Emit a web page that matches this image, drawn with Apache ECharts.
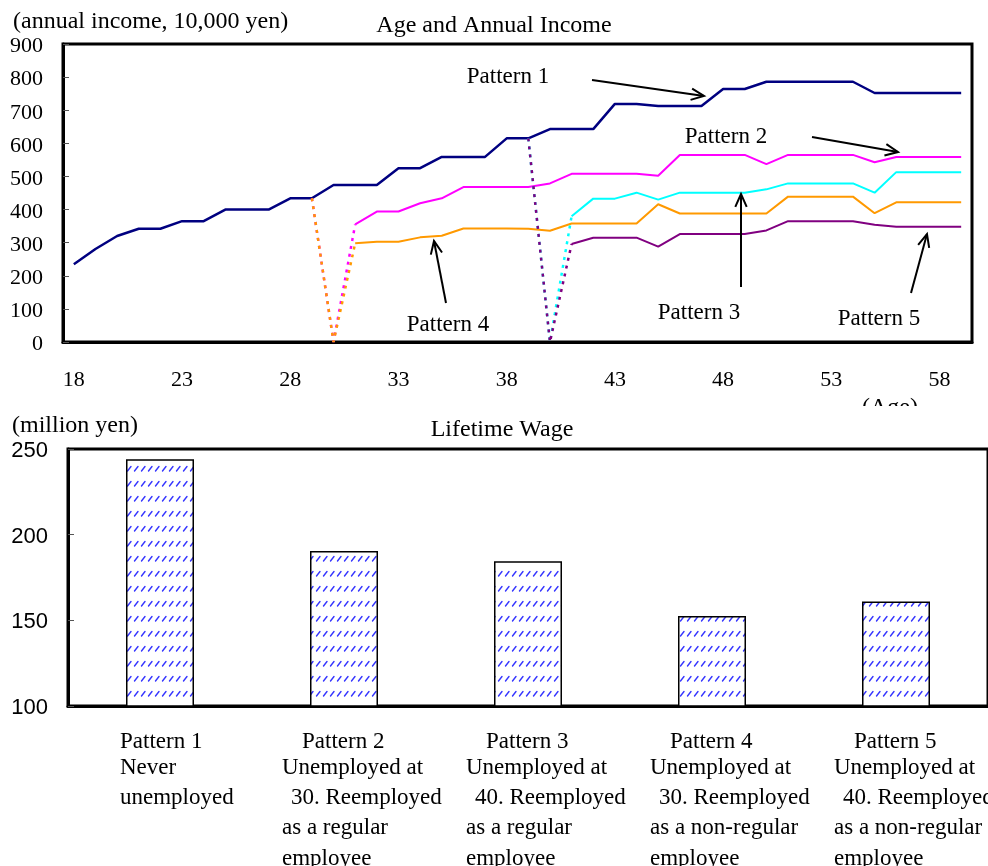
<!DOCTYPE html>
<html><head><meta charset="utf-8">
<script src="https://cdn.jsdelivr.net/npm/echarts@6/dist/echarts.min.js"></script>
<style>html,body{margin:0;padding:0;background:#fff}#c{width:988px;height:866px}</style>
</head><body><div id="c"></div>
<script>
// ---------- DATA ----------
const ages = [18,19,20,21,22,23,24,25,26,27,28,29,30,31,32,33,34,35,36,37,38,39,40,41,42,43,44,45,46,47,48,49,50,51,52,53,54,55,56,57,58,59];
// Pattern 1: never unemployed (ages 18-59)
const pattern1 = [235,281,320,342,342,365,365,400,400,400,434,434,474,474,474,525,525,559,559,559,615,615,643,643,643,719,719,713,713,713,764,764,786,786,786,786,786,752,752,752,752,752];
// Pattern 2: unemployed at 30, regular again (values from age 31)
const pattern2Start = 31;
const pattern2 = [355,394,394,419,434,468,468,468,468,479,508,508,508,508,502,565,565,565,565,537,565,565,565,565,543,559,559,559,559];
// Pattern 3: unemployed at 40, regular again (values from age 41)
const pattern3Start = 41;
const pattern3 = [380,433,433,451,430,451,451,451,451,461,479,479,479,479,451,513,513,513,513];
// Pattern 4: unemployed at 30, non-regular (values from age 31)
const pattern4Start = 31;
const pattern4 = [298,303,303,316,321,343,343,343,342,336,358,358,358,358,416,388,388,388,388,388,439,439,439,439,389,422,422,422,422];
// Pattern 5: unemployed at 40, non-regular (values from age 41)
const pattern5Start = 41;
const pattern5 = [296,315,315,315,288,326,326,326,326,337,365,365,365,365,354,348,348,348,348];
const unemployedIncome = 0;
const incomeTicks = {min:0, max:900, interval:100};
const ageLabelEvery = 5;

const wageCategories = ['Pattern 1','Pattern 2','Pattern 3','Pattern 4','Pattern 5'];
const wageDescriptions = [
  ['Never','unemployed'],
  ['Unemployed at','30. Reemployed','as a regular','employee'],
  ['Unemployed at','40. Reemployed','as a regular','employee'],
  ['Unemployed at','30. Reemployed','as a non-regular','employee'],
  ['Unemployed at','40. Reemployed','as a non-regular','employee']
];
const lifetimeWage = [244, 190.5, 184.5, 152.5, 161];
const wageTicks = {min:100, max:250, interval:50};

// ---------- HELPERS ----------
function fromAge(start, vals){
  const arr = ages.map(()=>null);
  const s = ages.indexOf(start);
  vals.forEach((v,i)=>{ arr[s+i] = v; });
  return arr;
}
function gapSeries(afterStart, afterVals){
  const arr = ages.map(()=>null);
  const u = ages.indexOf(afterStart) - 1;      // unemployment age index
  arr[u-1] = pattern1[u-1];
  arr[u] = unemployedIncome;
  arr[u+1] = afterVals[0];
  return arr;
}
const SERIF = '"Liberation Serif","Times New Roman",serif';
const SANS = '"Liberation Sans",Arial,sans-serif';

// hatch pattern for bars
const tile = document.createElement('canvas');
tile.width = 7; tile.height = 15;
(function(){
  const g = tile.getContext('2d');
  g.fillStyle = '#fff'; g.fillRect(0,0,7,15);
  g.strokeStyle = '#3535ff'; g.lineWidth = 1.4; g.lineCap = 'round';
  g.beginPath(); g.moveTo(1.5,6); g.lineTo(5,1.5); g.stroke();
})();

const chart = echarts.init(document.getElementById('c'), null, {renderer:'canvas'});

function lineS(name, data, color, width, dashed){
  return {
    name, type:'line', xAxisIndex:0, yAxisIndex:0, data,
    symbol:'none', showSymbol:false, connectNulls:false, silent:true,
    lineStyle:{color, width, type: dashed ? [3,5] : 'solid'},
    itemStyle:{color}
  };
}

const option = {
  animation:false,
  backgroundColor:'#fff',
  grid:[
    {left:63, top:44, width:909, height:298, show:true, borderColor:'#000', borderWidth:3, backgroundColor:'transparent'},
    {left:68, top:449, width:925, height:257, show:true, borderColor:'#000', borderWidth:3, backgroundColor:'transparent'}
  ],
  xAxis:[
    {type:'category', gridIndex:0, data:ages.map(String), boundaryGap:true,
     axisLine:{lineStyle:{color:'#000', width:3}},
     axisTick:{inside:true, length:6, interval:0, lineStyle:{color:'#555', width:1}},
     axisLabel:{interval:ageLabelEvery-1, margin:27, color:'#000', fontFamily:SERIF, fontSize:22},
     splitLine:{show:false}},
    {type:'category', gridIndex:1, data:wageCategories, boundaryGap:true,
     axisLine:{lineStyle:{color:'#000', width:3}},
     axisTick:{inside:true, length:6, interval:0, lineStyle:{color:'#777', width:1}},
     axisLabel:{show:false},
     splitLine:{show:false}}
  ],
  yAxis:[
    {type:'value', gridIndex:0, min:incomeTicks.min, max:incomeTicks.max, interval:incomeTicks.interval,
     axisLine:{show:true, lineStyle:{color:'#000', width:3}},
     axisTick:{show:true, inside:true, length:6, lineStyle:{color:'#555', width:1}},
     axisLabel:{margin:20, formatter:'{a|{value}}',
       rich:{a:{color:'#000', fontFamily:SERIF, fontSize:22, padding:[5,0,0,0]}}},
     splitLine:{show:false}},
    {type:'value', gridIndex:1, min:wageTicks.min, max:wageTicks.max, interval:wageTicks.interval,
     axisLine:{show:true, lineStyle:{color:'#000', width:3}},
     axisTick:{show:true, inside:true, length:6, lineStyle:{color:'#555', width:1}},
     axisLabel:{margin:20, formatter:'{a|{value}}',
       rich:{a:{color:'#000', fontFamily:SANS, fontSize:22, padding:[4,0,0,0]}}},
     splitLine:{show:false}}
  ],
  series:[
    lineS('Pattern 2', fromAge(pattern2Start, pattern2), '#ff00ff', 2),
    lineS('Pattern 3', fromAge(pattern3Start, pattern3), '#00ffff', 2),
    lineS('Pattern 4', fromAge(pattern4Start, pattern4), '#ff9900', 2),
    lineS('Pattern 5', fromAge(pattern5Start, pattern5), '#800080', 2),
    lineS('Pattern 1', pattern1, '#000080', 2.5),
    lineS('Pattern 2 gap', gapSeries(pattern2Start, pattern2), '#ff00ff', 2.5, true),
    lineS('Pattern 4 gap', gapSeries(pattern4Start, pattern4), '#ff9900', 2.5, true),
    lineS('Pattern 3 gap', gapSeries(pattern3Start, pattern3), '#00ffff', 2.5, true),
    lineS('Pattern 5 gap', gapSeries(pattern5Start, pattern5), '#800080', 2.5, true),
    {name:'Lifetime Wage', type:'bar', xAxisIndex:1, yAxisIndex:1, data:lifetimeWage, barWidth:68,
     itemStyle:{color:{image:tile, repeat:'repeat'}, borderColor:'#000', borderWidth:1.5}}
  ]
};
chart.setOption(option);

// ---------- ANNOTATIONS ----------
function txt(text, x, y, align, size){
  return {type:'text', z:100, silent:true,
    style:{text, x, y: y + 2, fill:'#000', font: (size || 23) + 'px ' + SERIF, textAlign: align || 'left', textVerticalAlign:'middle', verticalAlign:'middle'}};
}
function arrow(x1,y1,x2,y2){
  const a = Math.atan2(y2-y1, x2-x1), L = 14, h = 0.42;
  const p1 = [x2 - L*Math.cos(a-h), y2 - L*Math.sin(a-h)];
  const p2 = [x2 - L*Math.cos(a+h), y2 - L*Math.sin(a+h)];
  return [
    {type:'polyline', z:100, silent:true, shape:{points:[[x1,y1],[x2,y2]]}, style:{stroke:'#000', lineWidth:2, fill:null}},
    {type:'polyline', z:100, silent:true, shape:{points:[p1,[x2,y2],p2]}, style:{stroke:'#000', lineWidth:2, fill:null}}
  ];
}
const g = [];
g.push(txt('(annual income, 10,000 yen)', 13, 20, 'left', 24));
g.push(txt('Age and Annual Income', 494, 24, 'center', 24));
g.push(txt('(Age)', 890, 406, 'center', 24));
g.push({type:'rect', z:101, silent:true, shape:{x:700, y:406, width:288, height:14}, style:{fill:'#fff'}});
g.push(txt('(million yen)', 12, 424, 'left', 24));
g.push(txt('Lifetime Wage', 502, 428, 'center', 24));

g.push(txt('Pattern 1', 508, 75, 'center'));
g.push(...arrow(592, 80, 704, 96));
g.push(txt('Pattern 2', 726, 135, 'center'));
g.push(...arrow(812, 137, 898, 152));
g.push(txt('Pattern 3', 699, 311, 'center'));
g.push(...arrow(741, 287, 741, 194));
g.push(txt('Pattern 4', 448, 323, 'center'));
g.push(...arrow(446, 303, 434, 241));
g.push(txt('Pattern 5', 879, 317, 'center'));
g.push(...arrow(911, 293, 927, 234));

// category labels under bars
const lineYs = [740, 766, 796, 826, 857];
wageCategories.forEach((cat, i) => {
  const cx = chart.convertToPixel({xAxisIndex:1}, cat);
  const left = cx + (i === 0 ? -40 : -62);
  g.push(txt(cat, left + (i === 0 ? 0 : 20), lineYs[0]));
  wageDescriptions[i].forEach((ln, j) => {
    g.push(txt(ln, left + (i > 0 && j === 1 ? 9 : 0), lineYs[j+1]));
  });
});
chart.setOption({graphic:{elements:g}});
</script>
</body></html>
